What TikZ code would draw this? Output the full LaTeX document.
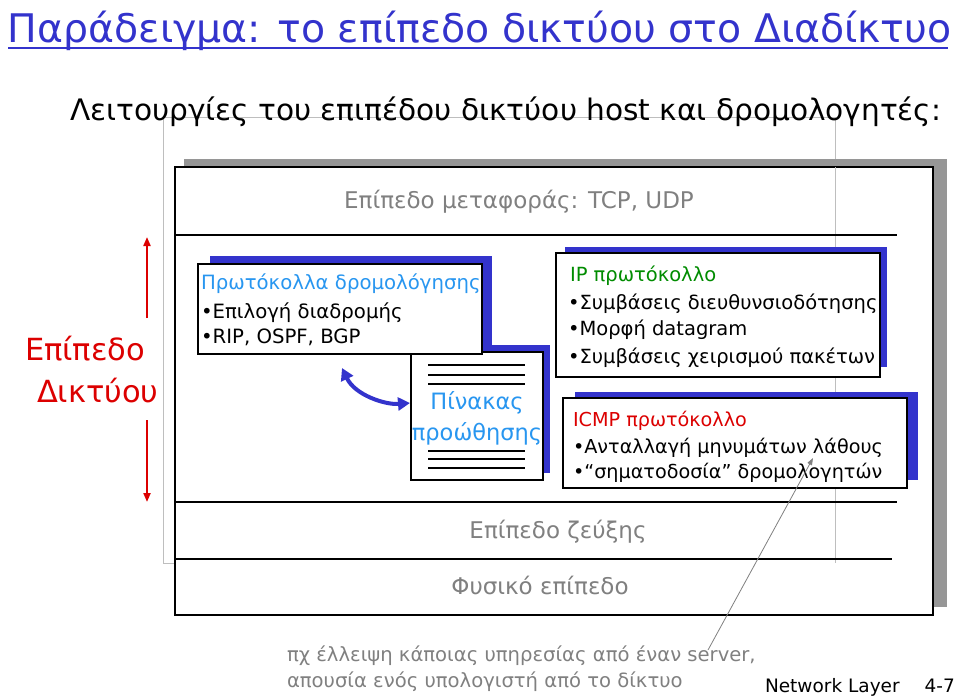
\documentclass[tikz,border=0pt]{standalone}
\usepackage{fontspec}
\setmainfont{DejaVu Sans}
\usetikzlibrary{arrows.meta}
\definecolor{tblue}{RGB}{51,51,204}
\definecolor{sky}{RGB}{40,150,240}
\definecolor{ipgreen}{RGB}{0,140,0}
\definecolor{lred}{RGB}{220,0,0}
\definecolor{gtext}{RGB}{128,128,128}
\definecolor{shgray}{RGB}{150,150,150}
\definecolor{lgray}{RGB}{190,190,190}
\begin{document}
\begin{tikzpicture}[x=1pt,y=-1pt,
  lbl/.style={inner sep=0pt, outer sep=0pt, anchor=base west},
  fs/.style={font=\fontsize{#1}{#1}\selectfont},
  boxline/.style={draw=black, line width=2.2pt, fill=white},
  bshadow/.style={fill=tblue, draw=none},
  layerline/.style={line width=2pt, black},
  tabline/.style={line width=1.8pt, black}]
\useasboundingbox (0,0) rectangle (960,699);

% title
\node[lbl, fs=39.4, text=tblue] (title) at (8,42) {Παράδειγμα: το επίπεδο δικτύου στο Διαδίκτυο};
\draw[tblue, line width=2.5pt] (8,48) -- (948,48);

% light gray frame
\draw[lgray, line width=1pt] (163,117) rectangle (835,563);

% subtitle
\node[lbl, fs=29.6] (sub) at (70,120) {Λειτουργίες του επιπέδου δικτύου host και δρομολογητές:};

% outer box with shadow
\fill[shgray] (184,159) rectangle (947,607);
\draw[boxline, line width=2pt] (175,167) rectangle (933,615);
\draw[lgray, line width=1pt] (835,167) -- (835,563);

% layer lines
\draw[layerline] (175,235) -- (897,235);
\draw[layerline] (175,502) -- (897,502);
\draw[layerline] (175,559) -- (892,559);

\node[anchor=base, inner sep=0pt, fs=23, text=gtext] (transport) at (519,208) {Επίπεδο μεταφοράς: TCP, UDP};
\node[anchor=base, inner sep=0pt, fs=23, text=gtext] (link) at (558,538) {Επίπεδο ζεύξης};
\node[anchor=base, inner sep=0pt, fs=23, text=gtext] (phys) at (540,594) {Φυσικό επίπεδο};

% left label and arrows
\node[lbl, fs=30.5, text=lred] (netA) at (25,360) {Επίπεδο};
\node[lbl, fs=30.5, text=lred] (netB) at (37,402) {Δικτύου};
\coordinate (upT) at (147,237);
\coordinate (upB) at (147,318);
\coordinate (dnT) at (147,420);
\coordinate (dnB) at (147,502);
\draw[lred, line width=2pt, -{Triangle[length=9pt,width=7pt]}] (upB) -- (upT);
\draw[lred, line width=2pt, -{Triangle[length=9pt,width=7pt]}] (dnT) -- (dnB);

% shadows of routing + forwarding
\fill[bshadow] (210,256) rectangle (492,346);
\fill[bshadow] (419,345) rectangle (550,473);
% forwarding table box
\draw[boxline] (411,352) rectangle (543,480);
\foreach \yy in {365,375,384,451,459,468}
  \draw[tabline] (428,\yy) -- (525,\yy);
\node[anchor=base, inner sep=0pt, fs=22.5, text=sky] (fwdA) at (477,409) {Πίνακας};
\node[anchor=base, inner sep=0pt, fs=22.5, text=sky] (fwdB) at (477,440) {προώθησης};
% routing box
\draw[boxline] (198,264) rectangle (482,354);
\node[lbl, fs=19.7, text=sky] (rtA) at (201,289) {Πρωτόκολλα δρομολόγησης};
\node[lbl, fs=19.7] (rtB) at (201,318) {•Επιλογή διαδρομής};
\node[lbl, fs=19.7] (rtC) at (201,343) {•RIP, OSPF, BGP};

% curved double arrow
\coordinate (caA) at (342,368);
\coordinate (caB) at (410,403);
\draw[tblue, line width=4pt, {Triangle[length=12pt,width=13pt]}-{Triangle[length=12pt,width=13pt]}]
  (caA) .. controls (355,395) and (385,405) .. (caB);

% IP box
\fill[bshadow] (565,247) rectangle (887,367);
\draw[boxline] (556,253) rectangle (880,377);
\node[lbl, fs=19.5, text=ipgreen] (ipA) at (570,281) {IP πρωτόκολλο};
\node[lbl, fs=19.5] (ipB) at (568,309) {•Συμβάσεις διευθυνσιοδότησης};
\node[lbl, fs=19.5] (ipC) at (568,335) {•Μορφή datagram};
\node[lbl, fs=19.5] (ipD) at (568,363) {•Συμβάσεις χειρισμού πακέτων};

% ICMP box
\fill[bshadow] (575,392) rectangle (918,480);
\draw[boxline] (563,398) rectangle (907,488);
\node[lbl, fs=19.2, text=lred] (icA) at (573,426) {ICMP πρωτόκολλο};
\node[lbl, fs=19.2] (icB) at (573,453) {•Ανταλλαγή μηνυμάτων λάθους};
\node[lbl, fs=19.2] (icC) at (573,478) {•“σηματοδοσία” δρομολογητών};

% annotation
\node[lbl, fs=19.6, text=gtext] (noteA) at (287,661) {πχ έλλειψη κάποιας υπηρεσίας από έναν server,};
\node[lbl, fs=19.6, text=gtext] (noteB) at (287,687) {απουσία ενός υπολογιστή από το δίκτυο};
\coordinate (annS) at (708,650);
\coordinate (annT) at (813,458);
\draw[gtext, line width=0.8pt, -{Triangle[length=7pt,width=5pt]}] (annS) -- (annT);

% footer
\node[lbl, fs=18.5] (foot) at (765,692) {Network Layer};
\node[inner sep=0pt, anchor=base east, fs=18.5] (pg) at (955,692) {4-7};
\end{tikzpicture}
\end{document}
